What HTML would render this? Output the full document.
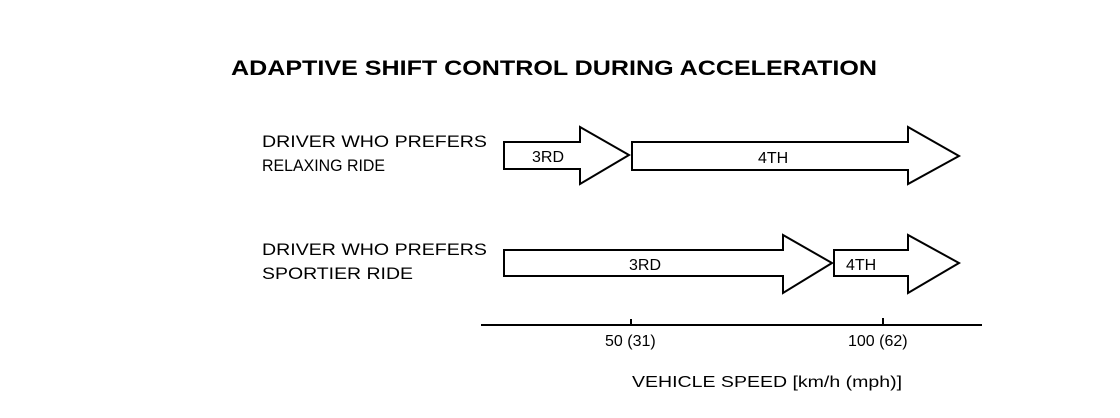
<!DOCTYPE html>
<html><head><style>html,body{margin:0;padding:0;background:#fff}svg{display:block}</style></head>
<body>
<svg width="1120" height="418" viewBox="0 0 1120 418" xmlns="http://www.w3.org/2000/svg" font-family="Liberation Sans, Arial, sans-serif">
<rect width="1120" height="418" fill="#fff"/>
<text x="231" y="75" font-size="21" font-weight="bold" textLength="646" lengthAdjust="spacingAndGlyphs">ADAPTIVE SHIFT CONTROL DURING ACCELERATION</text>
<g font-size="16.5">
<text x="262" y="147" textLength="225" lengthAdjust="spacingAndGlyphs">DRIVER WHO PREFERS</text>
<text x="262" y="171" textLength="123" lengthAdjust="spacingAndGlyphs">RELAXING RIDE</text>
<text x="262" y="255" textLength="225" lengthAdjust="spacingAndGlyphs">DRIVER WHO PREFERS</text>
<text x="262" y="279" textLength="151" lengthAdjust="spacingAndGlyphs">SPORTIER RIDE</text>
</g>
<g fill="#fff" stroke="#000" stroke-width="2" stroke-linejoin="miter">
<polygon points="504,142 580,142 580,127 629,155 580,184 580,169 504,169"/>
<polygon points="632,142 908,142 908,127 959,156 908,184 908,170 632,170"/>
<polygon points="504,250 783,250 783,235 832,263 783,293 783,276 504,276"/>
<polygon points="834,250 908,250 908,235 959,263 908,293 908,276 834,276"/>
</g>
<g font-size="16">
<text x="532" y="162">3RD</text>
<text x="758" y="163">4TH</text>
<text x="629" y="270">3RD</text>
<text x="846" y="270">4TH</text>
<text x="605" y="346">50 (31)</text>
<text x="848" y="346">100 (62)</text>
<text x="632" y="387" textLength="270" lengthAdjust="spacingAndGlyphs">VEHICLE SPEED [km/h (mph)]</text>
</g>
<line x1="481" y1="325" x2="982" y2="325" stroke="#000" stroke-width="2"/>
<line x1="631" y1="319" x2="631" y2="325" stroke="#000" stroke-width="2"/>
<line x1="883" y1="318" x2="883" y2="325" stroke="#000" stroke-width="2"/>
</svg>
</body></html>
